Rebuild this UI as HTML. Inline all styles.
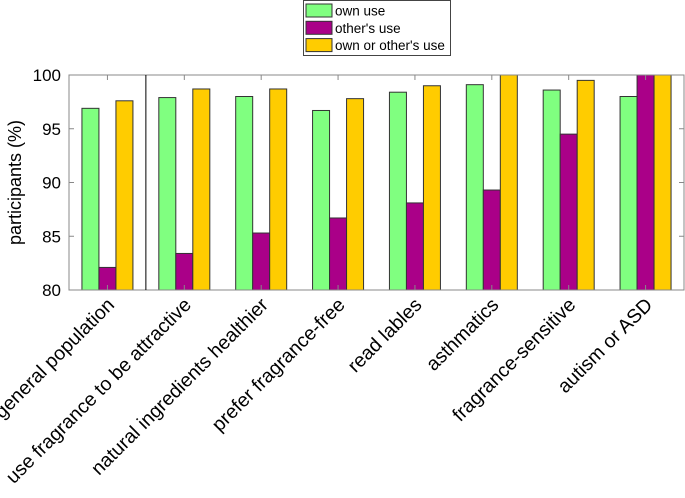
<!DOCTYPE html>
<html><head><meta charset="utf-8"><style>
body{margin:0;background:#fff;}
text{font-family:"Liberation Sans",sans-serif;fill:#000;}
</style></head><body>
<svg id="chart" width="685" height="493" xmlns="http://www.w3.org/2000/svg"></svg>
<script>
const categories=["general population","use fragrance to be attractive","natural ingredients healthier","prefer fragrance-free","read lables","asthmatics","fragrance-sensitive","autism or ASD"];
const ownUse=[96.9,97.9,98.0,96.7,98.4,99.1,98.6,98.0];
const othersUse=[82.1,83.4,85.3,86.7,88.1,89.3,94.5,100];
const eitherUse=[97.6,98.7,98.7,97.8,99.0,100,99.5,100];
const yTicks=[80,85,90,95,100];
const seriesNames=["own use","other's use","own or other's use"];
const colors=["#80ff80","#aa0088","#ffcc00"];
const NS="http://www.w3.org/2000/svg";
const svg=document.getElementById('chart');
const L=69,R=684,T=75,B=290,yMin=80,yMax=100;
const gw=(R-L)/categories.length;
const y=v=>B-(v-yMin)/(yMax-yMin)*(B-T);
const xc=i=>L+gw*(i+0.5);
function mk(tag,a){const e=document.createElementNS(NS,tag);for(const k in a)e.setAttribute(k,a[k]);svg.appendChild(e);return e;}
const all=[ownUse,othersUse,eitherUse];
const bw=17;
all.forEach((s,si)=>{s.forEach((v,i)=>{
 const r=mk('rect',{x:xc(i)+(si-1.5)*bw,y:y(v),width:bw,height:B-y(v),fill:colors[si],stroke:'#333','stroke-width':1});
 
 
});});
const fr=mk('rect',{x:L,y:T,width:R-L,height:B-T,fill:'none',stroke:'#888','stroke-width':1});


const sep=mk('line',{x1:L+gw,x2:L+gw,y1:T,y2:B,stroke:'#000','stroke-width':1});


yTicks.forEach(t=>{
 mk('line',{x1:L,x2:L+5,y1:y(t),y2:y(t),stroke:'#888'});
 mk('line',{x1:R-5,x2:R,y1:y(t),y2:y(t),stroke:'#888'});
 const tx=mk('text',{x:L-8,y:y(t)+6,'text-anchor':'end','font-size':17});
 tx.textContent=t;
 
 
});
categories.forEach((c,i)=>{
 mk('line',{x1:xc(i),x2:xc(i),y1:B,y2:B-5,stroke:'#888'});
 mk('line',{x1:xc(i),x2:xc(i),y1:T,y2:T+5,stroke:'#888'});
 const ax=xc(i)+8, ay=B+16;
 const tx=mk('text',{x:ax,y:ay,'text-anchor':'end','font-size':19.5,transform:`rotate(-45 ${ax} ${ay})`});
 tx.textContent=c;
 
 
});
const yl=mk('text',{x:21,y:(T+B)/2,'text-anchor':'middle','font-size':18,transform:`rotate(-90 21 ${(T+B)/2})`});
yl.textContent='participants (%)';


const lg=mk('rect',{x:303.5,y:0.5,width:147,height:55,fill:'#fff',stroke:'#444'});


seriesNames.forEach((n,si)=>{
 const yy=4+si*17.3;
 const sw=mk('rect',{x:306,y:yy,width:26,height:13,fill:colors[si],stroke:'#333'});
 
 
 const tx=mk('text',{x:335,y:yy+11.5,'font-size':13.5});
 tx.textContent=n;
 
 
});
</script>
</body></html>
